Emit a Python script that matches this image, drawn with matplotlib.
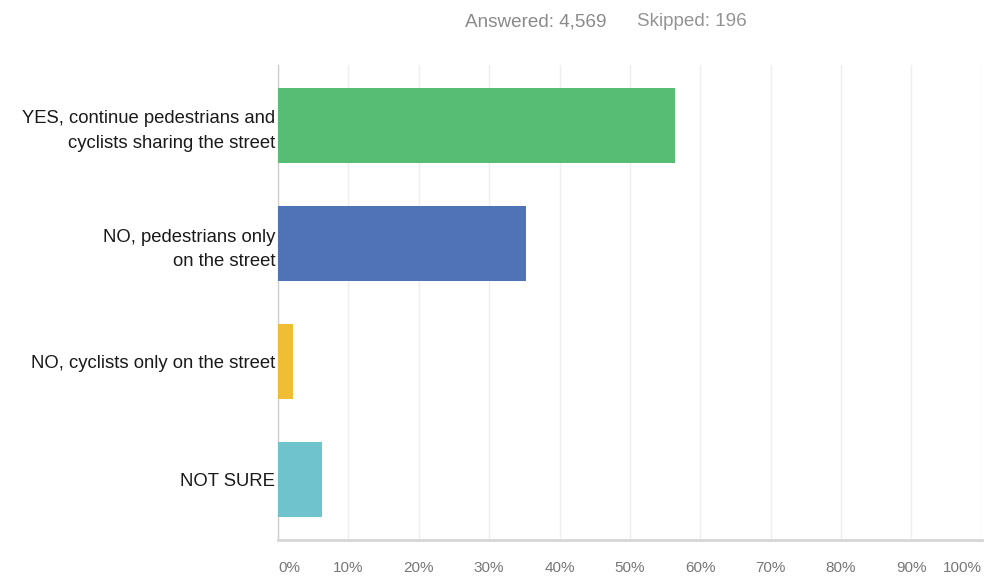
import matplotlib.pyplot as plt

plt.rcParams['font.family'] = ['Liberation Sans', 'DejaVu Sans']

answers = ["YES, continue pedestrians and\ncyclists sharing the street",
           "NO, pedestrians only\non the street",
           "NO, cyclists only on the street",
           "NOT SURE"]
percent = [56.4, 35.2, 2.1, 6.3]
colors = ["#57bd74", "#5073b8", "#f0be32", "#6ec3cd"]
ticks = [0, 10, 20, 30, 40, 50, 60, 70, 80, 90, 100]
tick_labels = [f"{t}%" for t in ticks]
answered = 4569
skipped = 196

fig = plt.figure(figsize=(9.9, 5.77), dpi=100)
ax = fig.add_axes([0.2808, 0.064, 0.711, 0.823])

y = list(range(len(answers)))
ax.barh(y, percent, height=0.634, color=colors, zorder=3)

ax.set_xlim(0, 100)
ax.set_ylim(3.51, -0.51)

ax.set_yticks(y)
ax.set_yticklabels(answers, fontsize=13.3, color="#1a1a1a", linespacing=1.56)
ax.tick_params(axis='y', length=0, pad=2)

ax.set_xticks(ticks)
ax.set_xticklabels(tick_labels, fontsize=11, color="#777777")
ax.tick_params(axis='x', length=0, pad=15)
# first label sits inside the left edge, last one inside the right edge
xt = ax.get_xticklabels()
xt[0].set_horizontalalignment('left')
xt[-1].set_horizontalalignment('right')

ax.grid(axis='x', color="#eeeeee", linewidth=1, zorder=0)
for side in ['top', 'right']:
    ax.spines[side].set_visible(False)
ax.spines['left'].set_color("#cfcfcf")
ax.spines['left'].set_linewidth(1)
ax.spines['bottom'].set_color("#d6d6d6")
ax.spines['bottom'].set_linewidth(2)

fig.text(465 / 990, 0.962, f"Answered: {answered:,}",
         ha='left', va='center', fontsize=13.6, color="#8a8a8a")
fig.text(637 / 990, 0.962, f"Skipped: {skipped}",
         ha='left', va='center', fontsize=13.6, color="#939393")

fig.savefig("out.png", dpi=100, facecolor="white")
